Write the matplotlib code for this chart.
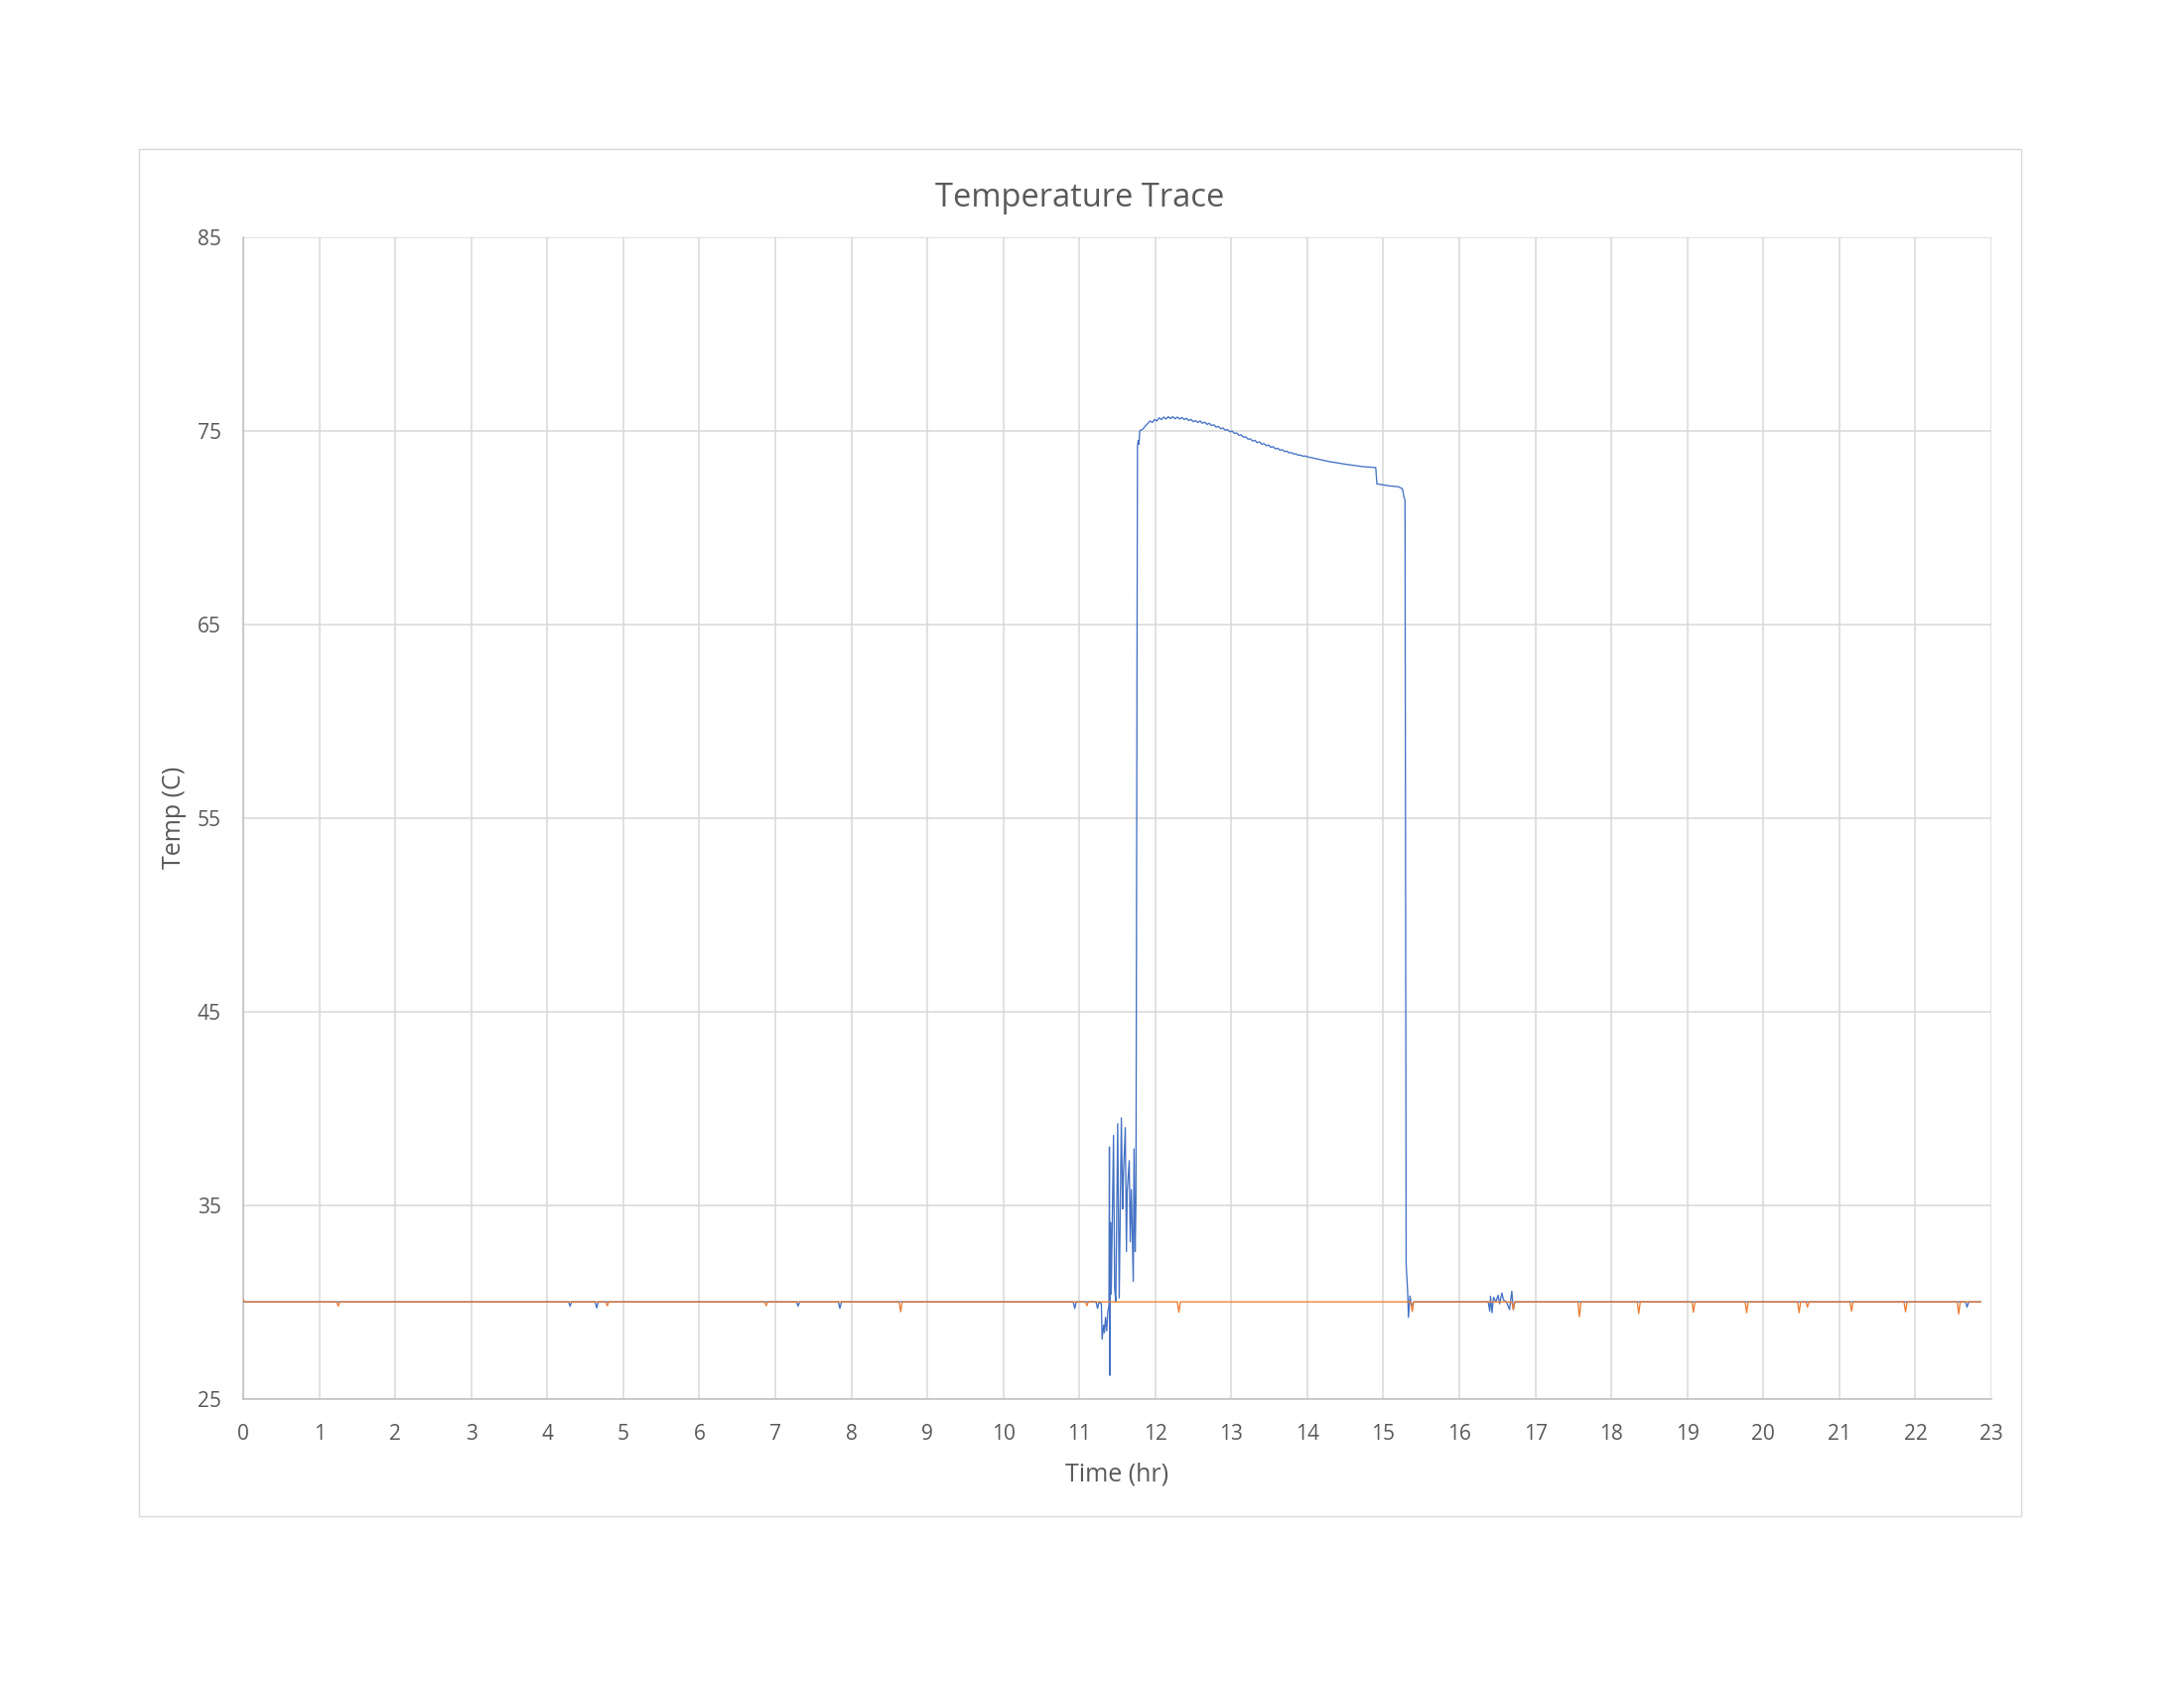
import matplotlib
matplotlib.use("Agg")
import matplotlib.pyplot as plt
from matplotlib.patches import Rectangle

plt.rcParams['font.family'] = ['Open Sans', 'DejaVu Sans']

# ---------------- data ----------------
x_ticks = list(range(0, 24))
y_ticks = [25, 35, 45, 55, 65, 75, 85]

blue_time = [0.0, 1.0, 2.0, 3.0, 4.28, 4.30, 4.32, 4.63, 4.65, 4.67, 6.0,
             7.28, 7.30, 7.32, 7.83, 7.85, 7.87, 9.5, 10.92, 10.94, 10.96,
             11.22, 11.24, 11.26, 11.29, 11.30, 11.32, 11.33, 11.345, 11.36,
             11.375, 11.39, 11.396, 11.402, 11.41, 11.42, 11.45, 11.465,
             11.48, 11.505, 11.525, 11.553, 11.57, 11.58, 11.605, 11.62,
             11.63, 11.657, 11.67, 11.685, 11.71, 11.72, 11.735, 11.745,
             11.765, 11.775, 11.785, 11.795, 11.835, 11.87,
             11.90, 11.93, 11.96, 11.99, 12.02, 12.05, 12.08, 12.11, 12.14,
             12.17, 12.20, 12.23, 12.26, 12.29, 12.32, 12.35, 12.38, 12.41,
             12.44, 12.47, 12.50, 12.53, 12.56, 12.59, 12.62, 12.65, 12.68,
             12.71, 12.74, 12.77, 12.80, 12.83, 12.86, 12.89, 12.92, 12.95,
             12.98, 13.01, 13.04, 13.07, 13.10, 13.13, 13.16, 13.19, 13.22,
             13.25, 13.28, 13.31, 13.34, 13.37, 13.40, 13.43, 13.46, 13.49,
             13.52, 13.55, 13.58, 13.61, 13.64, 13.67, 13.70, 13.73, 13.76,
             13.79, 13.82, 13.85, 13.88, 13.91, 13.94, 13.97, 14.0,
             14.29, 14.51, 14.73, 14.9, 14.915, 15.07,
             15.2, 15.25, 15.27, 15.285, 15.30, 15.32, 15.33, 15.35, 15.37,
             15.4, 16.0, 16.38, 16.40, 16.41, 16.43, 16.45, 16.48, 16.51,
             16.53, 16.56, 16.58, 16.62, 16.66, 16.69, 16.71, 16.73, 17.5,
             19.0, 21.0, 22.66, 22.68, 22.70, 22.86]
blue_temp = [30.0, 30.0, 30.0, 30.0, 30.0, 29.78, 30.0, 30.0, 29.69, 30.0, 30.0,
             30.0, 29.78, 30.0, 30.0, 29.66, 30.0, 30.0, 30.0, 29.66, 30.0,
             30.0, 29.66, 30.0, 29.9, 28.07, 28.8, 28.4, 29.2, 28.5,
             29.5, 29.8, 38.0, 26.2, 34.1, 30.4, 38.6, 30.7,
             30.0, 39.2, 30.2, 39.5, 34.8, 36.5, 39.0, 32.6,
             35.7, 37.3, 33.1, 35.8, 31.06, 37.9, 32.6, 35.0,
             74.2, 74.5, 74.3, 75.0, 75.07, 75.25,
             75.36, 75.50, 75.42, 75.58, 75.50, 75.66, 75.57, 75.70, 75.60,
             75.72, 75.62, 75.72, 75.61, 75.70, 75.60, 75.68, 75.57, 75.64,
             75.52, 75.58, 75.46, 75.52, 75.42, 75.50, 75.38, 75.44, 75.32,
             75.38, 75.26, 75.30, 75.18, 75.22, 75.10, 75.14, 75.02, 75.06,
             74.94, 74.98, 74.86, 74.88, 74.76, 74.78, 74.66, 74.68, 74.56,
             74.58, 74.46, 74.50, 74.38, 74.42, 74.30, 74.33, 74.22, 74.26,
             74.14, 74.17, 74.06, 74.09, 73.99, 74.02, 73.92, 73.94, 73.85,
             73.87, 73.79, 73.80, 73.73, 73.74, 73.68, 73.69, 73.65,
             73.4, 73.26, 73.14, 73.09, 72.25, 72.15,
             72.1, 72.0, 71.6, 71.4, 31.96, 30.5, 29.2, 30.3, 29.8,
             30.0, 30.0, 30.0, 29.52, 30.29, 29.44, 30.24, 30.0, 30.34,
             29.9, 30.46, 30.1, 30.0, 29.6, 30.55, 29.6, 30.0, 30.0,
             30.0, 30.0, 30.0, 29.73, 30.0, 30.0]

orange_time = [0.0, 0.02, 1.23, 1.25, 1.27, 4.77, 4.79, 4.81, 6.86, 6.88, 6.90,
               8.63, 8.65, 8.67, 11.08, 11.10, 11.12, 12.29, 12.31, 12.33,
               15.36, 15.38, 15.40, 16.69, 16.71, 16.73, 17.56, 17.58, 17.60,
               18.34, 18.36, 18.38, 19.06, 19.08, 19.10, 19.76, 19.78, 19.80,
               20.45, 20.47, 20.49, 20.56, 20.58, 20.60, 21.14, 21.16, 21.18,
               21.85, 21.87, 21.89, 22.55, 22.57, 22.59, 22.86]
orange_temp = [30.12, 30.0, 30.0, 29.78, 30.0, 30.0, 29.8, 30.0, 30.0, 29.8, 30.0,
               30.0, 29.49, 30.0, 30.0, 29.8, 30.0, 30.0, 29.46, 30.0,
               30.0, 29.5, 30.0, 30.0, 29.6, 30.0, 30.0, 29.23, 30.0,
               30.0, 29.4, 30.0, 30.0, 29.47, 30.0, 30.0, 29.44, 30.0,
               30.0, 29.44, 30.0, 30.0, 29.73, 30.0, 30.0, 29.52, 30.0,
               30.0, 29.49, 30.0, 30.0, 29.38, 30.0, 30.0]

title = "Temperature Trace"
x_label = "Time (hr)"
y_label = "Temp (C)"

# ---------------- styling ----------------
W, H = 2200, 1700
DPI = 100
TEXT = "#595959"
GRID = "#D9D9D9"
BLUE = "#4472C4"
ORANGE = "#ED7D31"

fig = plt.figure(figsize=(W / DPI, H / DPI), dpi=DPI)
fig.patch.set_facecolor("white")

# chart-area border
fig.patches.append(Rectangle((140 / W, 1 - 1527 / H), (2036 - 140) / W,
                             (1527 - 150) / H, transform=fig.transFigure,
                             fill=False, edgecolor=GRID, linewidth=1.0))

L, R, T, B = 245, 2006, 238.7, 1408.6
ax = fig.add_axes([L / W, 1 - B / H, (R - L) / W, (B - T) / H])

ax.plot(blue_time, blue_temp, color=BLUE, linewidth=0.95, zorder=3)
ax.plot(orange_time, orange_temp, color=ORANGE, linewidth=0.95, zorder=4)

ax.set_xlim(0, 23)
ax.set_ylim(25, 85)
ax.set_xticks(x_ticks)
ax.set_yticks(y_ticks)
ax.grid(True, color=GRID, linewidth=1.1, zorder=0)
ax.set_axisbelow(True)
for s in ["top", "right"]:
    ax.spines[s].set_visible(False)
for s in ["left", "bottom"]:
    ax.spines[s].set_color("#BFBFBF")
    ax.spines[s].set_linewidth(1.1)
ax.tick_params(axis="both", length=0, labelsize=15, labelcolor=TEXT)
ax.tick_params(axis="x", pad=18)
ax.tick_params(axis="y", pad=16)

fig.text(1088 / W, 1 - 199 / H, title, ha="center", va="center",
         fontsize=23.5, color=TEXT)
fig.text((L + R) / 2 / W, 1 - 1485 / H, x_label, ha="center", va="center",
         fontsize=18, color=TEXT)
fig.text(175 / W, 1 - ((T + B) / 2) / H, y_label, ha="center", va="center",
         rotation=90, fontsize=18, color=TEXT)

fig.savefig("out.png", dpi=DPI, facecolor="white")
